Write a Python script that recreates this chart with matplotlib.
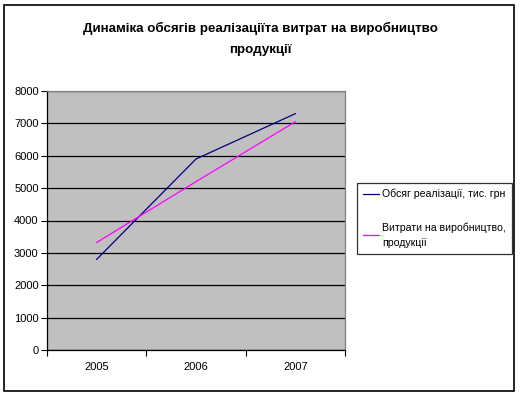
import matplotlib
matplotlib.use("Agg")
from matplotlib import pyplot as plt
from matplotlib.patches import Rectangle

plt.rcParams['font.family'] = ['Liberation Sans', 'DejaVu Sans']

years = ["2005", "2006", "2007"]
sales = [2800, 5900, 7300]
costs = [3320, 5200, 7050]
title = "Динаміка обсягів реалізаціїта витрат на виробництво\nпродукції"
labels = ["Обсяг реалізації, тис. грн", "Витрати на виробництво,\nпродукції"]

fig = plt.figure(figsize=(5.2, 3.97), dpi=100)
ax = fig.add_axes([47/520, 47/397, 298/520, 259/397])
ax.set_facecolor("#c0c0c0")

x = [0.5, 1.5, 2.5]
ax.plot(x, sales, color="#000080", lw=0.9, label=labels[0])
ax.plot(x, costs, color="#ff00ff", lw=0.9, label=labels[1])

ax.set_xlim(0, 3)
ax.set_ylim(0, 8000)
ax.set_yticks(range(0, 8001, 1000))
ax.set_xticks([0, 1, 2, 3])
ax.set_xticklabels([])
ax.set_xticks(x, minor=True)
ax.set_xticklabels(years, minor=True)
ax.tick_params(axis="x", which="minor", length=0, pad=9, labelsize=8)
ax.tick_params(axis="x", which="major", length=4, direction="out")
ax.tick_params(axis="y", length=4, direction="out", pad=2, labelsize=8)
ax.grid(axis="y", color="black", lw=0.9)
ax.set_axisbelow(True)
for s in ["top", "right"]:
    ax.spines[s].set_color("#808080")
    ax.spines[s].set_linewidth(0.9)
for s in ["left", "bottom"]:
    ax.spines[s].set_linewidth(0.9)

fig.text(0.5, 1 - 39/397, title, ha="center", va="center", fontsize=9.6,
         fontweight="bold", linespacing=1.95)

leg = fig.legend(loc="upper left", bbox_to_anchor=(357/520, 1 - 183/397),
                 fontsize=7.6, frameon=True, fancybox=False, handlelength=1.5,
                 handletextpad=0.35, labelspacing=2.2, borderpad=0.55,
                 borderaxespad=0)
for t in leg.get_texts():
    t.set_linespacing(1.6)
leg.get_frame().set_edgecolor("black")
leg.get_frame().set_linewidth(0.9)

fig.patches.append(Rectangle((4/520, 6/397), 510/520, 386/397,
                             transform=fig.transFigure, fill=False,
                             edgecolor="black", lw=1.2))

fig.savefig("out.png", dpi=100)
